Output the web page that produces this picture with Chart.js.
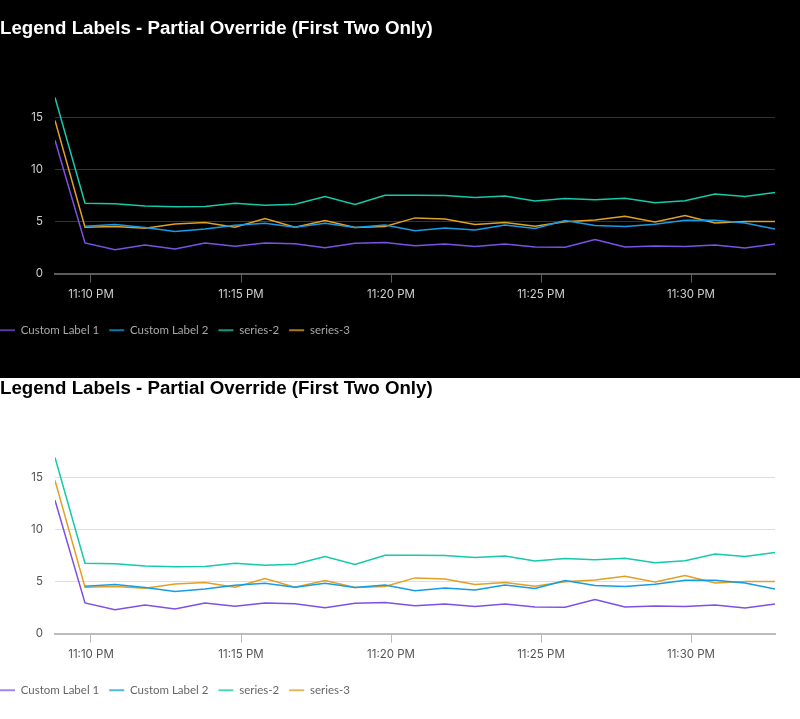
<!DOCTYPE html>
<html>
<head>
<meta charset="utf-8">
<script src="https://cdn.jsdelivr.net/npm/chart.js@4.4.1/dist/chart.umd.min.js"></script>
<style>
  body { margin: 0; background: #fff; }
  .dark { background: #000; padding: 18px 0; }
  .box { position: relative; width: 800px; height: 342px; }
</style>
</head>
<body>
<div class="dark"><div class="box"><canvas id="chartDark"></canvas></div></div>
<div class="light"><div class="box"><canvas id="chartLight"></canvas></div></div>
<script>
// minutes after 11 PM
const minutes = [8.8, 9.8, 10.8, 11.8, 12.8, 13.8, 14.8, 15.8, 16.8, 17.8, 18.8, 19.8,
  20.8, 21.8, 22.8, 23.8, 24.8, 25.8, 26.8, 27.8, 28.8, 29.8, 30.8, 31.8, 32.8];

const series0 = [12.8, 2.95, 2.3, 2.75, 2.37, 2.95, 2.63, 2.95, 2.88, 2.5, 2.92, 2.98,
  2.69, 2.85, 2.6, 2.85, 2.56, 2.53, 3.27, 2.56, 2.66, 2.6, 2.76, 2.47, 2.85];
const series1 = [null, 4.55, 4.71, 4.42, 4.04, 4.29, 4.65, 4.84, 4.45, 4.84, 4.42, 4.68,
  4.13, 4.39, 4.2, 4.68, 4.33, 5.1, 4.62, 4.52, 4.74, 5.13, 5.13, 4.87, 4.29];
const series2 = [16.9, 6.76, 6.7, 6.5, 6.41, 6.44, 6.76, 6.57, 6.67, 7.4, 6.63, 7.53,
  7.53, 7.5, 7.3, 7.44, 6.96, 7.21, 7.08, 7.24, 6.8, 6.99, 7.63, 7.4, 7.79];
const series3 = [14.7, 4.45, 4.52, 4.36, 4.77, 4.9, 4.45, 5.29, 4.45, 5.1, 4.42, 4.52,
  5.35, 5.25, 4.71, 4.9, 4.55, 4.97, 5.16, 5.51, 4.97, 5.58, 4.87, 5.0, 5.0];

const seriesNames = ["series-0", "series-1", "series-2", "series-3"];
const legendOverrides = ["Custom Label 1", "Custom Label 2"];
const colors = ["#7d50e6", "#149de6", "#14c9ac", "#e0a024"];
const legendColors = ["rgba(125,80,230,0.7)", "rgba(20,157,230,0.75)", "rgba(20,201,172,0.75)", "rgba(224,160,36,0.75)"];

const xTickValues = [10, 15, 20, 25, 30];
const xTickLabels = ["11:10 PM", "11:15 PM", "11:20 PM", "11:25 PM", "11:30 PM"];
const yTickValues = [0, 5, 10, 15];

const legendShift = {
  id: "legendShift",
  afterLayout(chart) {
    chart.legend.left -= 10;
  },
};

function makeChart(el, theme) {
  const allSeries = [series0, series1, series2, series3];
  const datasets = allSeries.map((vals, i) => ({
    label: seriesNames[i],
    data: vals.map((v, j) => ({ x: minutes[j], y: v })),
    borderColor: colors[i],
    backgroundColor: legendColors[i],
    borderWidth: 1.5,
    pointRadius: 0,
    tension: 0,
  }));

  const tickFont = { family: "Inter", size: 11.5 };

  return new Chart(el, {
    type: "line",
    data: { datasets },
    plugins: [legendShift],
    options: {
      responsive: true,
      maintainAspectRatio: false,
      animation: false,
      layout: { padding: { left: 0, right: 25, top: 0, bottom: 14 } },
      plugins: {
        title: {
          display: true,
          text: "Legend Labels - Partial Override (First Two Only)",
          align: "start",
          color: theme.title,
          font: { family: "'Liberation Sans', Arial, sans-serif", size: 18.7, weight: "bold" },
          padding: { top: 0, bottom: 57 },
        },
        legend: {
          position: "bottom",
          align: "start",
          labels: {
            color: theme.legend,
            font: { family: "Lato", size: 11.5 },
            boxWidth: 15,
            boxHeight: 2,
            padding: 10,
            generateLabels: (chart) => {
              const items = Chart.defaults.plugins.legend.labels.generateLabels(chart);
              items.forEach((item, i) => {
                if (legendOverrides[i]) item.text = legendOverrides[i];
                item.fillStyle = legendColors[i];
                item.lineWidth = 0;
                item.strokeStyle = "transparent";
              });
              return items;
            },
          },
        },
        tooltip: { enabled: false },
      },
      scales: {
        x: {
          type: "linear",
          min: minutes[0],
          max: minutes[minutes.length - 1],
          afterBuildTicks: (scale) => {
            scale.ticks = xTickValues.map((v) => ({ value: v }));
          },
          afterFit: (scale) => {
            scale.height += 8;
          },
          ticks: {
            color: theme.ticks,
            font: tickFont,
            padding: 5,
            maxRotation: 0,
            callback: (v) => xTickLabels[xTickValues.indexOf(v)],
          },
          grid: {
            drawOnChartArea: false,
            drawTicks: true,
            tickLength: 9,
            color: theme.axis,
          },
          border: { display: true, color: theme.axis, width: 2 },
        },
        y: {
          beginAtZero: true,
          bounds: "data",
          afterBuildTicks: (scale) => {
            scale.ticks = yTickValues.map((v) => ({ value: v }));
          },
          afterFit: (scale) => {
            scale.width = 55;
          },
          ticks: {
            color: theme.ticks,
            font: tickFont,
            padding: 12,
          },
          grid: { color: theme.grid, drawTicks: false },
          border: { display: false },
        },
      },
    },
  });
}

makeChart(document.getElementById("chartDark"), {
  title: "#ffffff", legend: "#a8a8a8", ticks: "#cfcfcf", grid: "#333333", axis: "#5c5c5c",
});
makeChart(document.getElementById("chartLight"), {
  title: "#000000", legend: "#666666", ticks: "#555555", grid: "#dddddd", axis: "#bbbbbb",
});
</script>
</body>
</html>
